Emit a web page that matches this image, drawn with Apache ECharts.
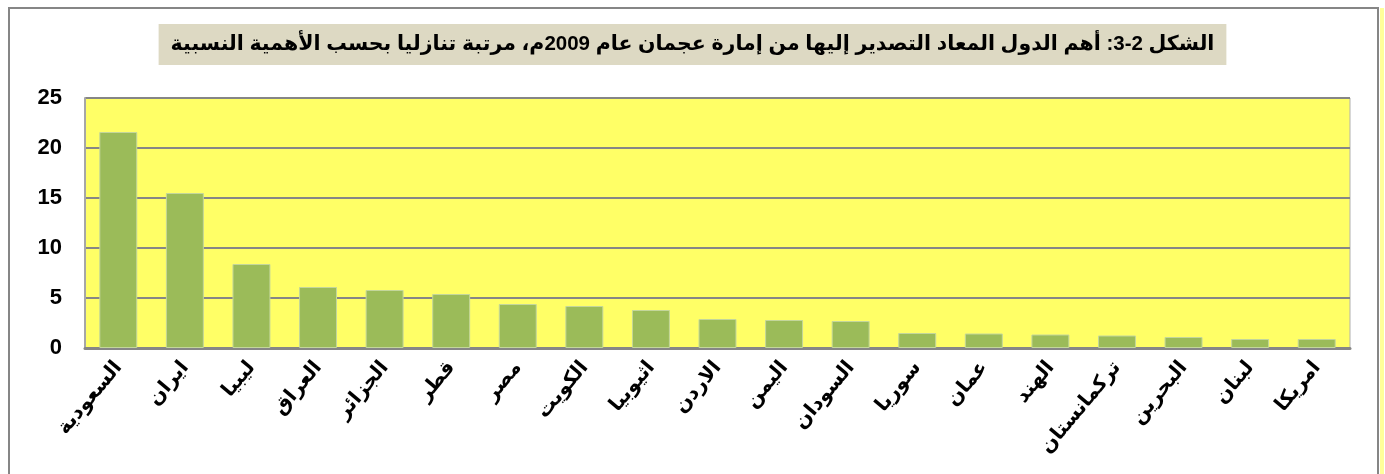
<!DOCTYPE html>
<html>
<head>
<meta charset="utf-8">
<script src="https://cdn.jsdelivr.net/npm/echarts@6/dist/echarts.min.js"></script>
<style>
  html, body { margin: 0; padding: 0; background: #fff; }
  #main { width: 1385px; height: 474px; }
</style>
</head>
<body>
<div id="main"></div>
<script>
// الدول المعاد التصدير إليها من إمارة عجمان 2009
const countries = ['السعودية', 'ايران', 'ليبيا', 'العراق', 'الجزائر', 'قطر', 'مصر', 'الكويت', 'اثيوبيا', 'الاردن',
  'اليمن', 'السودان', 'سوريا', 'عمان', 'الهند', 'تركمانستان', 'البحرين', 'لبنان', 'امريكا']
const shares = [21.6, 15.5, 8.4, 6.1, 5.8, 5.4, 4.4, 4.2, 3.8, 2.9, 2.8, 2.7, 1.5, 1.45, 1.35, 1.25, 1.1, 0.9, 0.9]
const yTicks = [0, 5, 10, 15, 20, 25]

const font = '"Liberation Sans", "DejaVu Sans", Arial, sans-serif'

let myChart = echarts.init(document.getElementById('main'))
myChart.setOption({
  animation: false,
  title: {
    text: 'الشكل 2-3: أهم الدول المعاد التصدير إليها من إمارة عجمان عام 2009م، مرتبة تنازليا بحسب الأهمية النسبية',
    left: 'center',
    top: 24,
    padding: [10, 12, 10, 12],
    backgroundColor: '#ddd9c3',
    textStyle: {
      fontFamily: font,
      fontSize: 20.5,
      fontWeight: 'bold',
      color: '#000',
    },
  },
  graphic: [
    {
      type: 'rect',
      shape: { x: 9, y: 8, width: 1369, height: 480 },
      style: { fill: 'none', stroke: '#868686', lineWidth: 2 },
      silent: true,
    },
    {
      type: 'rect',
      shape: { x: 1380, y: 8, width: 4, height: 470 },
      style: { fill: '#ffff99' },
      silent: true,
    },
  ],
  grid: {
    left: 85,
    right: 35,
    top: 98,
    bottom: 126,
    show: true,
    backgroundColor: '#ffff66',
    borderColor: '#b0b0b0',
    borderWidth: 1,
  },
  xAxis: {
    type: 'category',
    data: countries,
    axisLine: { lineStyle: { color: '#868686', width: 3 } },
    axisTick: { show: false },
    axisLabel: {
      interval: 0,
      rotate: 50,
      margin: 16,
      fontFamily: font,
      fontSize: 20,
      fontWeight: 'bold',
      color: '#000',
    },
  },
  yAxis: {
    type: 'value',
    min: yTicks[0],
    max: yTicks[yTicks.length - 1],
    interval: 5,
    axisLine: { show: true, lineStyle: { color: '#a6a6a6', width: 2 } },
    axisTick: { show: false },
    splitLine: { lineStyle: { color: '#868686', width: 2 } },
    axisLabel: {
      margin: 23,
      fontFamily: font,
      fontSize: 22,
      fontWeight: 'bold',
      color: '#000',
    },
  },
  series: [
    {
      type: 'bar',
      data: shares,
      barCategoryGap: '43%',
      itemStyle: {
        color: '#9bbb59',
        borderColor: '#c3d69b',
        borderWidth: 1,
      },
    },
  ],
})
</script>
</body>
</html>
